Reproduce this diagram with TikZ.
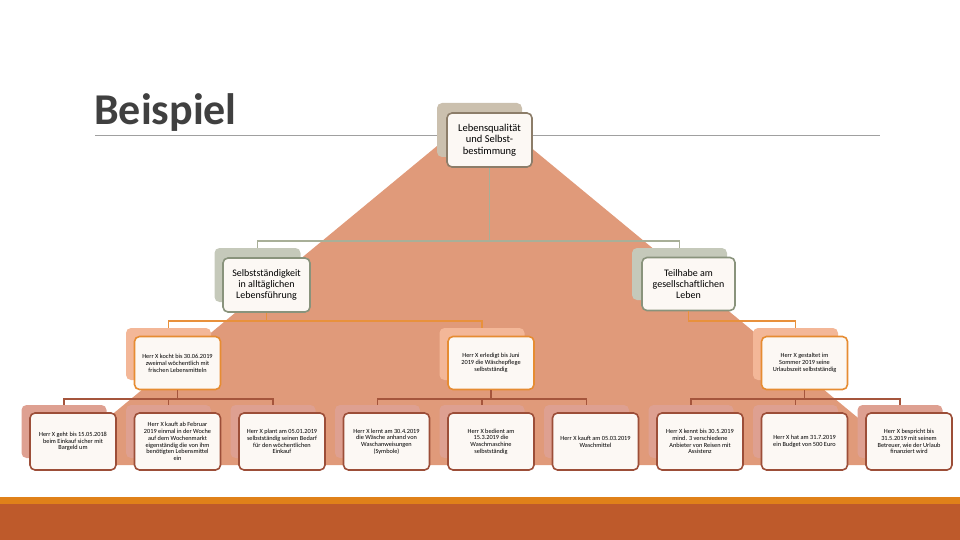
\documentclass[tikz,border=0pt]{standalone}
\usepackage{fontspec}
\setmainfont{Carlito}
\usetikzlibrary{calc,positioning}
\definecolor{pyramid}{RGB}{224,154,122}
\definecolor{paper}{RGB}{252,248,244}
\definecolor{tanshade}{RGB}{203,192,174}
\definecolor{tanline}{RGB}{140,125,105}
\definecolor{sageshade}{RGB}{197,201,186}
\definecolor{sageline}{RGB}{137,147,124}
\definecolor{sagelink}{RGB}{168,175,152}
\definecolor{peachshade}{RGB}{243,183,152}
\definecolor{orangeline}{RGB}{230,140,50}
\definecolor{orangelink}{RGB}{232,145,60}
\definecolor{roseshade}{RGB}{222,160,145}
\definecolor{brownline}{RGB}{156,78,56}
\definecolor{brownlink}{RGB}{165,85,60}
\definecolor{titlegray}{RGB}{64,64,64}
\definecolor{rulegray}{RGB}{160,160,160}
\definecolor{bandorange}{RGB}{224,129,25}
\definecolor{bandbrown}{RGB}{190,90,43}

\begin{document}
\begin{tikzpicture}[x=1pt,y=-1pt,
back/.style={rounded corners=5pt,inner sep=0pt},
face/.style={draw,rounded corners=5pt,line width=1.6pt,fill=paper,align=center,inner sep=1pt},
back1/.style={back,fill=tanshade,minimum width=85pt,minimum height=54pt},
face1/.style={face,draw=tanline,minimum width=85pt,minimum height=54pt,font=\fontsize{10.5}{11.7}\selectfont},
back2/.style={back,fill=sageshade,minimum height=54pt},
face2/.style={face,draw=sageline,minimum height=54pt,font=\fontsize{10}{10.8}\selectfont},
back3/.style={back,fill=peachshade,minimum width=85pt,minimum height=52pt},
face3/.style={face,draw=orangeline,minimum width=86pt,minimum height=53pt,font=\fontsize{6.3}{7}\selectfont},
back4/.style={back,fill=roseshade,minimum width=85pt,minimum height=53pt},
face4/.style={face,draw=brownline,minimum width=86pt,minimum height=57pt,font=\fontsize{6.3}{6.7}\selectfont},
link1/.style={draw=sagelink,line width=1.5pt},
link2/.style={draw=orangelink,line width=1.5pt},
link3/.style={draw=brownlink,line width=1.5pt}]
\useasboundingbox (0,0) rectangle (960,540);
% pyramid and page decoration
\fill[pyramid] (483,108) -- (915,465) -- (51,465) -- cycle;
\draw[rulegray,line width=1pt] (95,136) -- (880,136);
\node[anchor=base west,inner sep=0pt,text=titlegray,font=\fontsize{44}{44}\selectfont\bfseries] (title) at (94,125) {Beispiel};
\fill[bandorange] (0,497) rectangle (960,504);
\fill[bandbrown] (0,504) rectangle (960,540);

% level 1
\node[back1] (goalbg) at (479.5,130) {};
\node[face1] (goal) at ($(goalbg)+(10,10)$) {Lebensqualität\\und Selbst-\\bestimmung};

% level 2
\node[back2,minimum width=86pt] (selbstbg) at (257.5,275) {};
\node[face2,minimum width=87pt] (selbst) at ($(selbstbg)+(9,10)$) {Selbstständigkeit\\in alltäglichen\\Lebensführung};
\node[back2,minimum width=95pt,minimum height=52pt] (teilhabebg) at (679.5,274) {};
\node[face2,minimum width=93pt,minimum height=53pt] (teilhabe) at ($(teilhabebg)+(9,10)$) {Teilhabe am\\gesellschaftlichen\\Leben};

% level 3
\node[back3] (kochenbg) at (168.5,354) {};
\node[face3] (kochen) at ($(kochenbg)+(9,9)$) {Herr X kocht bis 30.06.2019\\zweimal wöchentlich mit\\frischen Lebensmitteln};
\node[back3] (waeschebg) at (482,354) {};
\node[face3] (waesche) at ($(waeschebg)+(9,9)$) {Herr X erledigt bis Juni\\2019 die Wäschepflege\\selbstständig};
\node[back3] (urlaubbg) at (795.5,354) {};
\node[face3] (urlaub) at ($(urlaubbg)+(9,9)$) {Herr X gestaltet im\\Sommer 2019 seine\\Urlaubszeit selbstständig};

% level 4
\node[back4] (bargeldbg) at (64,431.5) {};
\node[face4] (bargeld) at ($(bargeldbg)+(9,10)$) {Herr X geht bis 15.05.2018\\beim Einkauf sicher mit\\Bargeld um};
\node[back4] (marktbg) at (168.5,431.5) {};
\node[face4] (markt) at ($(marktbg)+(9,10)$) {Herr X kauft ab Februar\\2019 einmal in der Woche\\auf dem Wochenmarkt\\eigenständig die von ihm\\benötigten Lebensmittel\\ein};
\node[back4] (bedarfbg) at (273,431.5) {};
\node[face4] (bedarf) at ($(bedarfbg)+(9,10)$) {Herr X plant am 05.01.2019\\selbstständig seinen Bedarf\\für den wöchentlichen\\Einkauf};
\node[back4] (symbolebg) at (377.5,431.5) {};
\node[face4] (symbole) at ($(symbolebg)+(9,10)$) {Herr X lernt am 30.4.2019\\die Wäsche anhand von\\Waschanweisungen\\(Symbole)};
\node[back4] (maschinebg) at (482,431.5) {};
\node[face4] (maschine) at ($(maschinebg)+(9,10)$) {Herr X bedient am\\15.3.2019 die\\Waschmaschine\\selbstständig};
\node[back4] (mittelbg) at (586.5,431.5) {};
\node[face4] (mittel) at ($(mittelbg)+(9,10)$) {Herr X kauft am 05.03.2019\\Waschmittel};
\node[back4] (anbieterbg) at (691,431.5) {};
\node[face4] (anbieter) at ($(anbieterbg)+(9,10)$) {Herr X kennt bis 30.5.2019\\mind. 3 verschiedene\\Anbieter von Reisen mit\\Assistenz};
\node[back4] (budgetbg) at (795.5,431.5) {};
\node[face4] (budget) at ($(budgetbg)+(9,10)$) {Herr X hat am 31.7.2019\\ein Budget von 500 Euro};
\node[back4] (finanzbg) at (900,431.5) {};
\node[face4] (finanz) at ($(finanzbg)+(9,10)$) {Herr X bespricht bis\\31.5.2019 mit seinem\\Betreuer, wie der Urlaub\\finanziert wird};

% connectors
\draw[link1] (goal.south) -- ++(0,73) -| (selbstbg.north);
\draw[link1] (goal.south) -- ++(0,73) -| (teilhabebg.north);
\draw[link2] (selbst.south) -- ++(0,8) -| (kochenbg.north);
\draw[link2] (selbst.south) -- ++(0,8) -| (waeschebg.north);
\draw[link2] (teilhabe.south) -- ++(0,9.5) -| (urlaubbg.north);
\draw[link3] (kochen.south) -- ++(0,8.5) -| (bargeldbg.north);
\draw[link3] (kochen.south) -- ++(0,8.5) -| (marktbg.north);
\draw[link3] (kochen.south) -- ++(0,8.5) -| (bedarfbg.north);
\draw[link3] (waesche.south) -- ++(0,8.5) -| (symbolebg.north);
\draw[link3] (waesche.south) -- ++(0,8.5) -| (maschinebg.north);
\draw[link3] (waesche.south) -- ++(0,8.5) -| (mittelbg.north);
\draw[link3] (urlaub.south) -- ++(0,8.5) -| (anbieterbg.north);
\draw[link3] (urlaub.south) -- ++(0,8.5) -| (budgetbg.north);
\draw[link3] (urlaub.south) -- ++(0,8.5) -| (finanzbg.north);
\end{tikzpicture}
\end{document}
